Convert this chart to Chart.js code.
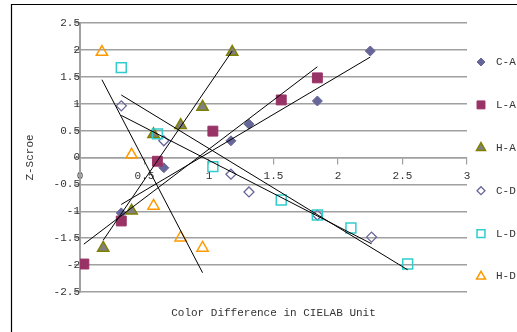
<!DOCTYPE html>
<html>
<head>
<meta charset="utf-8">
<script src="https://cdn.jsdelivr.net/npm/chart.js@4/dist/chart.umd.min.js"></script>
<style>
  html, body { margin: 0; padding: 0; background: #ffffff; }
  #wrap { width: 517px; height: 332px; position: relative; }
</style>
</head>
<body>
<div id="wrap"><canvas id="c" width="517" height="332"></canvas></div>
<script>
// ---- Data ----
const seriesNames = ['C-A', 'L-A', 'H-A', 'C-D', 'L-D', 'H-D'];

const caX = [0.32, 0.65, 1.17, 1.31, 1.84, 2.25];
const caY = [-1.03, -0.19, 0.31, 0.62, 1.05, 1.98];

const laX = [0.03, 0.32, 0.60, 1.03, 1.56, 1.84];
const laY = [-1.98, -1.18, -0.07, 0.49, 1.07, 1.48];

const haX = [0.18, 0.40, 0.57, 0.78, 0.95, 1.18];
const haY = [-1.68, -0.99, 0.43, 0.60, 0.94, 1.96];

const cdX = [0.32, 0.65, 1.17, 1.31, 1.84, 2.26];
const cdY = [0.96, 0.31, -0.31, -0.64, -1.07, -1.48];

const ldX = [0.32, 0.60, 1.03, 1.56, 1.84, 2.10, 2.54];
const ldY = [1.67, 0.44, -0.17, -0.79, -1.07, -1.31, -1.98];

const hdX = [0.17, 0.40, 0.57, 0.78, 0.95];
const hdY = [1.96, 0.05, -0.90, -1.49, -1.68];

const xTickValues = [0, 0.5, 1, 1.5, 2, 2.5, 3];
const xTickLabels = ['0', '0.5', '1', '1.5', '2', '2.5', '3'];
const yTickValues = [-2.5, -2, -1.5, -1, -0.5, 0, 0.5, 1, 1.5, 2, 2.5];
const yTickLabels = ['-2.5', '-2', '-1.5', '-1', '-0.5', '0', '0.5', '1', '1.5', '2', '2.5'];

const xTitle = 'Color Difference in CIELAB Unit';
const yTitle = 'Z-Scroe';

// ---- Styles ----
const FONT = "'Liberation Mono', 'DejaVu Sans Mono', monospace";
const TEXT_COLOR = '#333333';
const GRID_COLOR = '#a0a0a0';

const styles = [
  { pointStyle: 'rectRot',  radius: 5,   bg: '#666699', border: '#666699', bw: 1 },
  { pointStyle: 'rect',     radius: 7,   bg: '#993366', border: '#993366', bw: 1 },
  { pointStyle: 'triangle', radius: 6.5, bg: '#808080', border: '#808000', bw: 1.5 },
  { pointStyle: 'rectRot',  radius: 5,   bg: 'rgba(0,0,0,0)', border: '#666699', bw: 1.3 },
  { pointStyle: 'rect',     radius: 7,   bg: 'rgba(0,0,0,0)', border: '#33CCCC', bw: 1.5 },
  { pointStyle: 'triangle', radius: 6.5, bg: 'rgba(0,0,0,0)', border: '#FF9900', bw: 1.5 }
];

const seriesXs = [caX, laX, haX, cdX, ldX, hdX];
const seriesYs = [caY, laY, haY, cdY, ldY, hdY];

function toPoints(xs, ys) { return xs.map((x, i) => ({ x: x, y: ys[i] })); }

// Linear least-squares trendline (Excel "linear trendline") over each series' own x range
function trend(xs, ys) {
  const n = xs.length;
  const mx = xs.reduce((a, b) => a + b, 0) / n;
  const my = ys.reduce((a, b) => a + b, 0) / n;
  let sxy = 0, sxx = 0;
  for (let i = 0; i < n; i++) { sxy += (xs[i] - mx) * (ys[i] - my); sxx += (xs[i] - mx) * (xs[i] - mx); }
  const b = sxy / sxx, a = my - b * mx;
  const x0 = Math.min.apply(null, xs), x1 = Math.max.apply(null, xs);
  return [{ x: x0, y: a + b * x0 }, { x: x1, y: a + b * x1 }];
}

const datasets = [];
seriesNames.forEach((name, i) => {
  const s = styles[i];
  datasets.push({
    label: name,
    data: toPoints(seriesXs[i], seriesYs[i]),
    pointStyle: s.pointStyle,
    pointRadius: s.radius,
    pointHoverRadius: s.radius,
    backgroundColor: s.bg,
    borderColor: s.border,
    borderWidth: s.bw,
    showLine: false,
    order: 10 - i
  });
});
seriesNames.forEach((name, i) => {
  datasets.push({
    label: 'trend ' + name,
    data: trend(seriesXs[i], seriesYs[i]),
    showLine: true,
    borderColor: '#000000',
    borderWidth: 1,
    pointRadius: 0,
    pointHoverRadius: 0,
    fill: false,
    order: 0
  });
});

function labelFor(values, labels, v) {
  const idx = values.findIndex(t => Math.abs(t - v) < 1e-9);
  return idx >= 0 ? labels[idx] : '';
}

// Custom legend (right side) + outer frame
const legendPlugin = {
  id: 'sideLegend',
  afterDraw(chart) {
    const ctx = chart.ctx;
    ctx.save();
    // outer frame (top + left visible)
    ctx.strokeStyle = '#000000';
    ctx.lineWidth = 1.2;
    ctx.beginPath();
    ctx.moveTo(11.5, 340);
    ctx.lineTo(11.5, 4.5);
    ctx.lineTo(530, 4.5);
    ctx.stroke();

    const x0 = 481, yStart = 62, step = 42.9;
    ctx.font = '11px ' + FONT;
    ctx.textBaseline = 'middle';
    ctx.textAlign = 'left';
    seriesNames.forEach((name, i) => {
      const s = styles[i];
      const y = yStart + i * step;
      ctx.fillStyle = s.bg;
      ctx.strokeStyle = s.border;
      ctx.lineWidth = s.bw;
      Chart.helpers.drawPoint(ctx, {
        pointStyle: s.pointStyle,
        radius: s.radius * 0.8,
        rotation: 0,
        borderWidth: s.bw
      }, x0, y);
      ctx.fillStyle = TEXT_COLOR;
      ctx.fillText(name, 496, y);
    });
    ctx.restore();
  }
};

new Chart(document.getElementById('c'), {
  type: 'scatter',
  data: { datasets: datasets },
  plugins: [legendPlugin],
  options: {
    responsive: false,
    animation: false,
    events: [],
    layout: { padding: { left: 0, right: 50, top: 23, bottom: 0 } },
    plugins: { legend: { display: false }, tooltip: { enabled: false } },
    scales: {
      x: {
        type: 'linear',
        position: { y: 0 },
        min: 0, max: 3,
        afterBuildTicks: (axis) => { axis.ticks = xTickValues.map(v => ({ value: v })); },
        grid: { drawOnChartArea: false, drawTicks: true, tickLength: 6, color: GRID_COLOR, lineWidth: 1.2 },
        border: { display: true, color: GRID_COLOR, width: 1.5 },
        ticks: {
          font: { family: FONT, size: 11 }, color: TEXT_COLOR, padding: 6, maxRotation: 0,
          callback: (v) => labelFor(xTickValues, xTickLabels, v)
        }
      },
      y: {
        type: 'linear',
        position: { x: 0 },
        min: -2.5, max: 2.5,
        afterBuildTicks: (axis) => { axis.ticks = yTickValues.map(v => ({ value: v })); },
        grid: { drawOnChartArea: true, drawTicks: true, tickLength: 5, color: GRID_COLOR, lineWidth: 1.5 },
        border: { display: true, color: GRID_COLOR, width: 2 },
        ticks: {
          font: { family: FONT, size: 11 }, color: TEXT_COLOR, padding: 6,
          callback: (v) => labelFor(yTickValues, yTickLabels, v)
        }
      },
      xTitleAxis: {
        type: 'linear',
        axis: 'x',
        position: 'bottom',
        display: true,
        grid: { display: false, drawTicks: false },
        border: { display: false },
        ticks: { display: false },
        title: { display: true, text: xTitle, color: TEXT_COLOR, font: { family: FONT, size: 11 }, padding: { top: 14.4, bottom: 12.4 } }
      },
      yTitleAxis: {
        type: 'linear',
        axis: 'y',
        position: 'left',
        display: true,
        grid: { display: false, drawTicks: false },
        border: { display: false },
        ticks: { display: false },
        title: { display: true, text: yTitle, color: TEXT_COLOR, font: { family: FONT, size: 11 }, padding: { top: 23.4, bottom: 43.4 } }
      }
    }
  }
});
</script>
</body>
</html>
